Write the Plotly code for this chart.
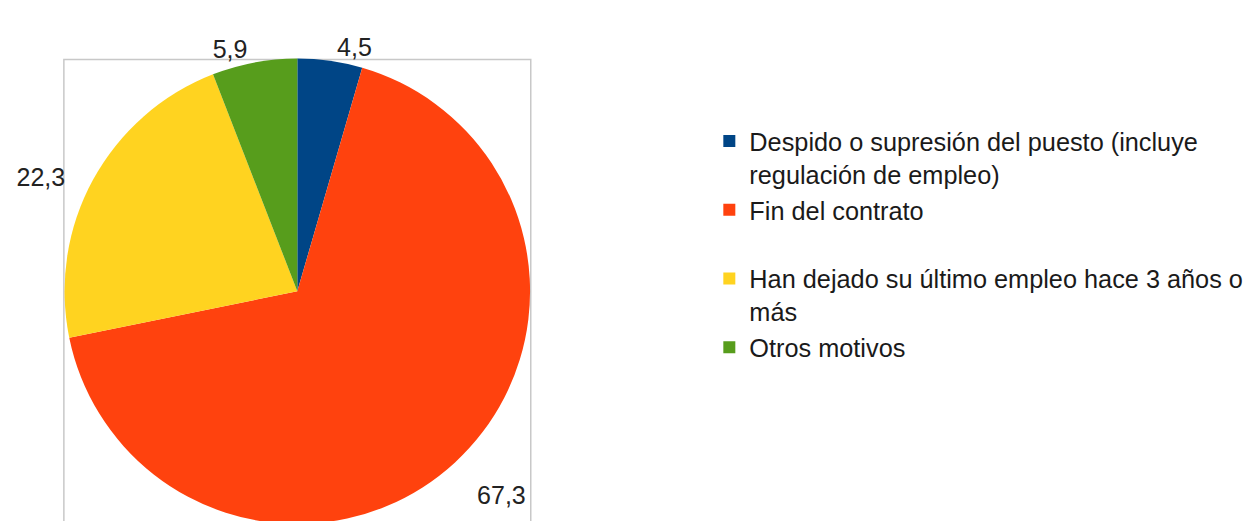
import plotly.graph_objects as go

categories = [
    "Despido o supresión del puesto (incluye<br>regulación de empleo)",
    "Fin del contrato<br>\u00a0",
    "Han dejado su último empleo hace 3 años o<br>más",
    "Otros motivos",
]
values = [4.5, 67.3, 22.3, 5.9]
colors = ["#004586", "#ff420e", "#ffd320", "#579d1c"]

# label formatting (padding nudges outside labels away from the pie like the original)
label_templates = [
    "%{value:.1f}",
    "\u00a0<br>\u00a0%{value:.1f}",
    "%{value:.1f}\u00a0\u00a0\u00a0",
    "%{value:.1f}",
]

# page body has an 8px margin; figure coordinates below are screen - 8
W, H = 1252, 521
pie_l, pie_r, pie_t = 52, 522, 51
frame_l, frame_r, frame_t = 53, 521, 52

fig = go.Figure(go.Pie(
    labels=categories,
    values=values,
    sort=False,
    direction="clockwise",
    rotation=0,
    marker=dict(colors=colors, line=dict(width=0)),
    texttemplate=label_templates,
    textposition="outside",
    textfont=dict(size=25, color="#222222", family="Liberation Sans, Arial, sans-serif"),
    hoverinfo="label+value",
    domain=dict(x=[pie_l / W, pie_r / W], y=[(H - pie_t - (pie_r - pie_l)) / H, (H - pie_t) / H]),
    showlegend=True,
))

fig.add_shape(type="rect", xref="paper", yref="paper",
              x0=frame_l / W, x1=frame_r / W, y0=-0.1, y1=(H - frame_t) / H,
              line=dict(color="#c8c8c8", width=1.5), fillcolor="rgba(0,0,0,0)", layer="below")

fig.update_layout(
    width=W, height=H,
    margin=dict(l=0, r=0, t=0, b=0),
    paper_bgcolor="white",
    plot_bgcolor="white",
    separators=",.",
    font=dict(family="Liberation Sans, Arial, sans-serif", size=25, color="#1a1a1a"),
    legend=dict(
        x=700 / W, xanchor="left",
        y=(H - 111) / H, yanchor="top",
        valign="top",
        font=dict(size=25.3, color="#1a1a1a"),
        tracegroupgap=0,
        itemclick=False,
    ),
)

fig.write_html("out.html")
